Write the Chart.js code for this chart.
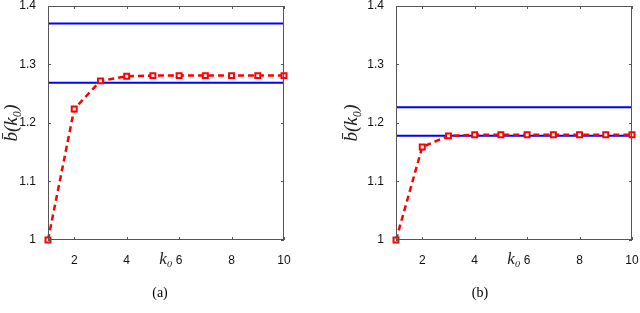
<!DOCTYPE html>
<html>
<head>
<meta charset="utf-8">
<script src="https://cdn.jsdelivr.net/npm/chart.js@4/dist/chart.umd.min.js"></script>
<style>
  body { margin: 0; background: #fff; }
  .wrap { position: absolute; top: 0; width: 320px; height: 313px; }
</style>
</head>
<body>
<div class="wrap" style="left:0"><canvas id="chartA"></canvas></div>
<div class="wrap" style="left:320px"><canvas id="chartB"></canvas></div>
<script>
// k0 values and the measured curves
const k0 = [1, 2, 3, 4, 5, 6, 7, 8, 9, 10];
const bA = [1.0, 1.224, 1.272, 1.280, 1.281, 1.281, 1.281, 1.281, 1.281, 1.281];
const bB = [1.0, 1.159, 1.178, 1.180, 1.180, 1.180, 1.180, 1.180, 1.180, 1.180];
// horizontal bounds (upper, lower)
const boundsA = [1.370, 1.269];
const boundsB = [1.227, 1.178];
const xTicks = [2, 4, 6, 8, 10];
const yTicks = [1, 1.1, 1.2, 1.3, 1.4];
const captions = ["(a)", "(b)"];

// box around plot + inward ticks, matlab style
const boxPlugin = {
  id: "box",
  afterDraw(chart, args, opts) {
    const c = chart.ctx, a = chart.chartArea;
    const xs = chart.scales.x, ys = chart.scales.y;
    c.save();
    c.strokeStyle = "#555";
    c.lineWidth = 1;
    c.strokeRect(a.left + 0.5, a.top + 0.5, a.right - a.left - 1, a.bottom - a.top - 1);
    c.beginPath();
    xTicks.forEach(v => {
      const px = Math.round(xs.getPixelForValue(v)) + 0.5;
      c.moveTo(px, a.bottom); c.lineTo(px, a.bottom - 3);
      c.moveTo(px, a.top); c.lineTo(px, a.top + 3);
    });
    yTicks.forEach(v => {
      const py = Math.round(ys.getPixelForValue(v)) + 0.5;
      c.moveTo(a.left, py); c.lineTo(a.left + 3, py);
      c.moveTo(a.right, py); c.lineTo(a.right - 3, py);
    });
    c.stroke();
    c.fillStyle = "#000";
    c.font = "14px 'Liberation Serif'";
    c.textAlign = "center";
    c.textBaseline = "middle";
    c.fillText(opts.caption, 160, 293);
    c.restore();
  }
};

function makeChart(id, values, bounds, caption, padLeft, yWidth, padRight) {
  const pts = k0.map((k, i) => ({ x: k, y: values[i] }));
  const line = y => [{ x: 1, y: y }, { x: 10, y: y }];
  return new Chart(document.getElementById(id), {
    type: "line",
    data: {
      datasets: [
        {
          data: pts,
          borderColor: "#ff0000",
          borderWidth: 2.5,
          borderDash: [6, 4],
          pointStyle: "rect",
          pointRadius: 3.5,
          pointBorderWidth: 2,
          pointBorderColor: "#ff0000",
          pointBackgroundColor: "#fff",
          tension: 0,
          clip: false
        },
        { data: line(bounds[0]), borderColor: "#0000ff", borderWidth: 2, pointRadius: 0 },
        { data: line(bounds[1]), borderColor: "#0000ff", borderWidth: 2, pointRadius: 0 }
      ]
    },
    options: {
      responsive: false,
      animation: false,
      layout: { padding: { left: padLeft, right: padRight, top: 6, bottom: 43 } },
      plugins: { legend: { display: false }, tooltip: { enabled: false }, box: { caption: caption } },
      scales: {
        x: {
          type: "linear",
          min: 1, max: 10,
          afterBuildTicks: s => { s.ticks = xTicks.map(v => ({ value: v })); },
          afterFit: s => { s.height = 30; s.paddingLeft = 0; s.paddingRight = 0; },
          grid: { display: false },
          border: { display: false },
          ticks: { padding: 5, color: "#111", font: { family: "Liberation Sans", size: 12 }, callback: v => String(v) },
          title: {
            display: true, text: "k\u2080", color: "#222",
            padding: { top: 0, bottom: 0 },
            font: { family: "Liberation Serif", size: 17, style: "italic" }
          }
        },
        y: {
          min: 1, max: 1.4,
          afterBuildTicks: s => { s.ticks = yTicks.map(v => ({ value: v })); },
          afterFit: s => { s.width = yWidth; s.paddingTop = 0; s.paddingBottom = 0; },
          grid: { display: false },
          border: { display: false },
          ticks: { padding: 4, color: "#111", font: { family: "Liberation Sans", size: 12 }, callback: v => String(v) },
          title: {
            display: true, text: "b\u0304(k\u2080)", color: "#222",
            padding: { top: 1, bottom: 0 },
            font: { family: "Liberation Serif", size: 19, style: "italic" }
          }
        }
      }
    },
    plugins: [boxPlugin]
  });
}

document.getElementById("chartA").width = 320;
document.getElementById("chartA").height = 313;
document.getElementById("chartB").width = 320;
document.getElementById("chartB").height = 313;
makeChart("chartA", bA, boundsA, captions[0], 0, 48, 36);
makeChart("chartB", bB, boundsB, captions[1], 20, 56, 8);
</script>
</body>
</html>
